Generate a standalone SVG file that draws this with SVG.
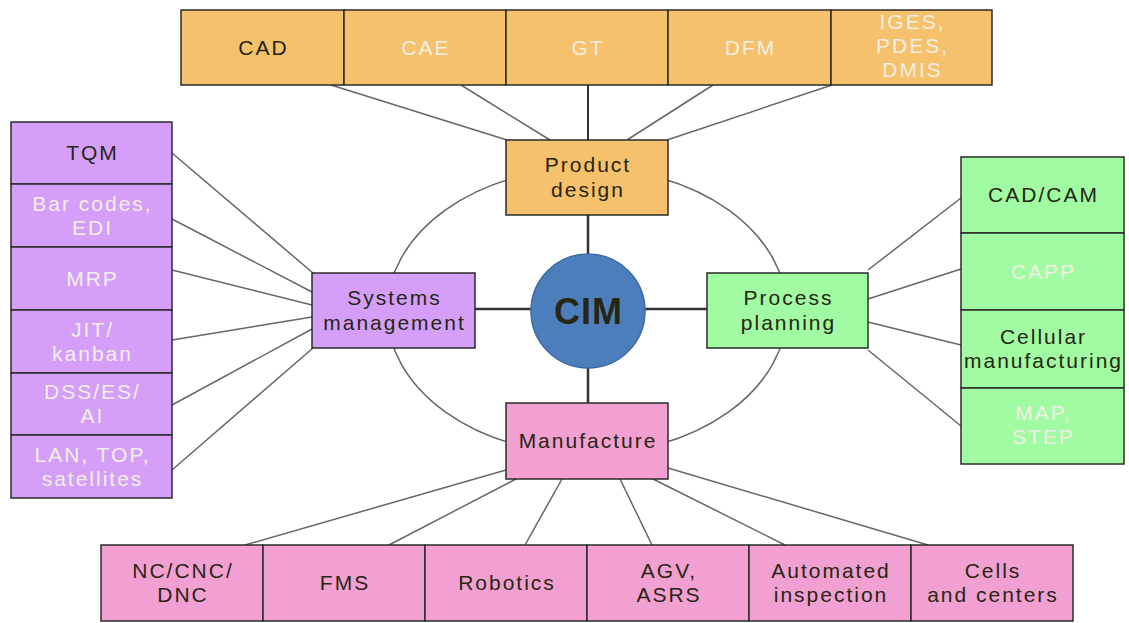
<svg xmlns="http://www.w3.org/2000/svg" width="1129" height="623" viewBox="0 0 1129 623">
  <style>
    .bg { fill: #ffffff; }
    .cell { stroke: #2b2b2b; stroke-width: 1.5; }
    .hub { stroke: #2b2b2b; stroke-width: 1.5; }
    .or { fill: #F5C16C; }
    .pu { fill: #D59FF9; }
    .gr { fill: #A0FBA2; }
    .pk { fill: #F2A0D2; }
    .t { font-family: "Liberation Sans", Arial, sans-serif; font-size: 21px; letter-spacing: 2px; text-anchor: middle; }
    .dk { fill: #262612; }
    .lt { fill: #f1efe2; }
    .cim { font-family: "Liberation Sans", Arial, sans-serif; font-size: 36px; font-weight: bold; letter-spacing: 1px; text-anchor: middle; fill: #262612; }
    .thin { stroke: #666666; stroke-width: 1.5; fill: none; }
    .spoke { stroke: #333333; stroke-width: 2.5; fill: none; }
  </style>

  <rect class="bg" x="0" y="0" width="1129" height="623"/>

  <!-- connectors -->
  <g id="connectors">
    <ellipse class="thin" cx="587" cy="311" rx="200" ry="143"/>
    <!-- hub spokes -->
    <line class="spoke" x1="588" y1="215" x2="588" y2="254"/>
    <line class="spoke" x1="588" y1="368" x2="588" y2="403"/>
    <line class="spoke" x1="475" y1="309" x2="531" y2="309"/>
    <line class="spoke" x1="645" y1="309" x2="707" y2="309"/>
    <!-- design tools -->
    <line class="thin" x1="331" y1="85" x2="507" y2="140"/>
    <line class="thin" x1="461" y1="85" x2="550" y2="140"/>
    <line class="spoke" x1="588" y1="85" x2="588" y2="140" style="stroke-width:2"/>
    <line class="thin" x1="713" y1="85" x2="627" y2="140"/>
    <line class="thin" x1="832" y1="85" x2="667" y2="140"/>
    <!-- management tools -->
    <line class="thin" x1="172" y1="153" x2="313" y2="273"/>
    <line class="thin" x1="172" y1="219" x2="312" y2="292"/>
    <line class="thin" x1="172" y1="270" x2="312" y2="305"/>
    <line class="thin" x1="172" y1="340" x2="312" y2="317"/>
    <line class="thin" x1="172" y1="405" x2="312" y2="329"/>
    <line class="thin" x1="172" y1="470" x2="313" y2="348"/>
    <!-- planning tools -->
    <line class="thin" x1="868" y1="270" x2="961" y2="198"/>
    <line class="thin" x1="868" y1="299" x2="961" y2="269"/>
    <line class="thin" x1="868" y1="322" x2="961" y2="345"/>
    <line class="thin" x1="868" y1="350" x2="961" y2="426"/>
    <!-- manufacturing tools -->
    <line class="thin" x1="506" y1="470" x2="245" y2="545"/>
    <line class="thin" x1="516" y1="479" x2="389" y2="545"/>
    <line class="thin" x1="562" y1="479" x2="525" y2="545"/>
    <line class="thin" x1="620" y1="479" x2="652" y2="545"/>
    <line class="thin" x1="653" y1="479" x2="785" y2="545"/>
    <line class="thin" x1="668" y1="468" x2="928" y2="545"/>
  </g>

  <!-- top row: design tools -->
  <g id="cad"><rect class="cell or" x="181" y="10" width="163" height="75"/><text class="t dk" x="263.5" y="55">CAD</text></g>
  <g id="cae"><rect class="cell or" x="344" y="10" width="162" height="75"/><text class="t lt" x="426" y="55">CAE</text></g>
  <g id="gt"><rect class="cell or" x="506" y="10" width="162" height="75"/><text class="t lt" x="588" y="55">GT</text></g>
  <g id="dfm"><rect class="cell or" x="668" y="10" width="163" height="75"/><text class="t lt" x="750.5" y="55">DFM</text></g>
  <g id="iges"><rect class="cell or" x="831" y="10" width="161" height="75"/>
    <text class="t lt" x="912.5" y="29">IGES,</text>
    <text class="t lt" x="912.5" y="53">PDES,</text>
    <text class="t lt" x="912.5" y="77">DMIS</text></g>

  <!-- left column: management tools -->
  <g id="tqm"><rect class="cell pu" x="11" y="122" width="161" height="62"/><text class="t dk" x="92.5" y="160">TQM</text></g>
  <g id="barcodes"><rect class="cell pu" x="11" y="184" width="161" height="63"/>
    <text class="t lt" x="92.5" y="211">Bar codes,</text>
    <text class="t lt" x="92.5" y="235">EDI</text></g>
  <g id="mrp"><rect class="cell pu" x="11" y="247" width="161" height="63"/><text class="t lt" x="92.5" y="286">MRP</text></g>
  <g id="jit"><rect class="cell pu" x="11" y="310" width="161" height="63"/>
    <text class="t lt" x="92.5" y="337">JIT/</text>
    <text class="t lt" x="92.5" y="361">kanban</text></g>
  <g id="dss"><rect class="cell pu" x="11" y="373" width="161" height="62"/>
    <text class="t lt" x="92.5" y="399">DSS/ES/</text>
    <text class="t lt" x="92.5" y="423">AI</text></g>
  <g id="lan"><rect class="cell pu" x="11" y="435" width="161" height="63"/>
    <text class="t lt" x="92.5" y="462">LAN, TOP,</text>
    <text class="t lt" x="92.5" y="486">satellites</text></g>

  <!-- right column: planning tools -->
  <g id="cadcam"><rect class="cell gr" x="961" y="157" width="163" height="76"/><text class="t dk" x="1043.5" y="202">CAD/CAM</text></g>
  <g id="capp"><rect class="cell gr" x="961" y="233" width="163" height="77"/><text class="t lt" x="1043.5" y="279">CAPP</text></g>
  <g id="cellular"><rect class="cell gr" x="961" y="310" width="163" height="78"/>
    <text class="t dk" x="1043.5" y="344">Cellular</text>
    <text class="t dk" x="1043.5" y="368">manufacturing</text></g>
  <g id="map"><rect class="cell gr" x="961" y="388" width="163" height="76"/>
    <text class="t lt" x="1043.5" y="420">MAP,</text>
    <text class="t lt" x="1043.5" y="444">STEP</text></g>

  <!-- bottom row: manufacturing tools -->
  <g id="nc"><rect class="cell pk" x="101" y="545" width="162" height="76"/>
    <text class="t dk" x="183" y="578">NC/CNC/</text>
    <text class="t dk" x="183" y="602">DNC</text></g>
  <g id="fms"><rect class="cell pk" x="263" y="545" width="162" height="76"/><text class="t dk" x="345" y="590">FMS</text></g>
  <g id="robotics"><rect class="cell pk" x="425" y="545" width="162" height="76"/><text class="t dk" x="507" y="590">Robotics</text></g>
  <g id="agv"><rect class="cell pk" x="587" y="545" width="162" height="76"/>
    <text class="t dk" x="669" y="578">AGV,</text>
    <text class="t dk" x="669" y="602">ASRS</text></g>
  <g id="inspection"><rect class="cell pk" x="749" y="545" width="162" height="76"/>
    <text class="t dk" x="831" y="578">Automated</text>
    <text class="t dk" x="831" y="602">inspection</text></g>
  <g id="cells"><rect class="cell pk" x="911" y="545" width="162" height="76"/>
    <text class="t dk" x="993" y="578">Cells</text>
    <text class="t dk" x="993" y="602">and centers</text></g>

  <!-- functional areas -->
  <g id="product-design"><rect class="hub or" x="506" y="140" width="162" height="75"/>
    <text class="t dk" x="588" y="172">Product</text>
    <text class="t dk" x="588" y="197">design</text></g>
  <g id="systems-management"><rect class="hub pu" x="312" y="273" width="163" height="75"/>
    <text class="t dk" x="394.5" y="305">Systems</text>
    <text class="t dk" x="394.5" y="330">management</text></g>
  <g id="process-planning"><rect class="hub gr" x="707" y="273" width="161" height="75"/>
    <text class="t dk" x="788.5" y="305">Process</text>
    <text class="t dk" x="788.5" y="330">planning</text></g>
  <g id="manufacture"><rect class="hub pk" x="506" y="403" width="162" height="76"/>
    <text class="t dk" x="588" y="448">Manufacture</text></g>

  <!-- hub -->
  <g id="cim"><circle cx="588" cy="311" r="57" fill="#4C7EBB" stroke="#3d6aa3" stroke-width="1.5"/>
    <text class="cim" x="588.5" y="324">CIM</text></g>
</svg>
